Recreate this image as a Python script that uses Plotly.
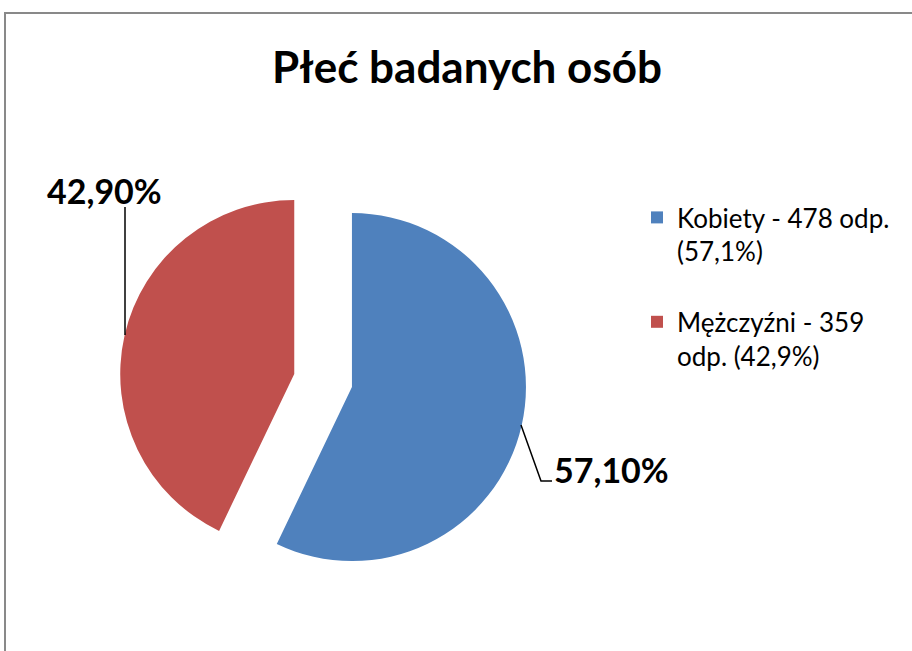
import plotly.graph_objects as go

# dane
labels = ["Kobiety", "Mężczyźni"]
counts = [478, 359]
percents = [57.10, 42.90]
legend_texts = ["Kobiety - 478 odp.<br>(57,1%)<br> ", "Mężczyźni - 359<br>odp. (42,9%)"]
colors = ["#4F81BD", "#C0504D"]

W, H = 912, 651


def px(x):
    return x / W


def py(y):
    return 1 - y / H


fig = go.Figure()
fig.add_trace(go.Pie(
    labels=legend_texts,
    values=counts,
    marker=dict(colors=colors),
    sort=False,
    direction="clockwise",
    rotation=0,
    pull=[0.17, 0.17],
    textinfo="none",
    hovertemplate="%{label}<extra></extra>",
    domain=dict(x=[px(119.5), px(526.7)], y=[py(584.1), py(176.9)]),
))

# etykiety procentowe z liniami odniesienia
lab_font = dict(family="Lato", size=34, color="black")
fig.add_annotation(x=px(104), y=py(190), xref="paper", yref="paper",
                   xanchor="center", yanchor="middle",
                   text="<b>%s%%</b>" % f"{percents[1]:.2f}".replace(".", ","),
                   showarrow=False, font=lab_font)
fig.add_annotation(x=px(611), y=py(470), xref="paper", yref="paper",
                   xanchor="center", yanchor="middle",
                   text="<b>%s%%</b>" % f"{percents[0]:.2f}".replace(".", ","),
                   showarrow=False, font=lab_font)
fig.add_shape(type="line", xref="paper", yref="paper",
              x0=px(125), y0=py(207), x1=px(125), y1=py(335),
              line=dict(color="black", width=1.5))
fig.add_shape(type="path", xref="paper", yref="paper",
              path="M %f %f L %f %f L %f %f" % (px(521), py(425), px(541), py(481), px(552), py(481)),
              line=dict(color="black", width=1.5))

# ramka
fig.add_shape(type="rect", xref="paper", yref="paper",
              x0=px(5), y0=py(H + 10), x1=px(W + 10), y1=py(13),
              line=dict(color="#898989", width=2), layer="below")

fig.update_layout(
    width=W, height=H,
    margin=dict(l=0, r=0, t=0, b=0),
    paper_bgcolor="white",
    title=dict(text="<b>Płeć badanych osób</b>", x=px(467), xanchor="center",
               y=py(68), yanchor="middle",
               font=dict(family="Lato", size=44, color="black")),
    showlegend=True,
    legend=dict(x=px(637), y=py(194), xanchor="left", yanchor="top",
                valign="top", font=dict(family="Lato", size=26, color="black"),
                bgcolor="rgba(0,0,0,0)"),
)

fig.write_html("out.html", config={"displayModeBar": False},
               post_script="document.body.style.margin='0';")
